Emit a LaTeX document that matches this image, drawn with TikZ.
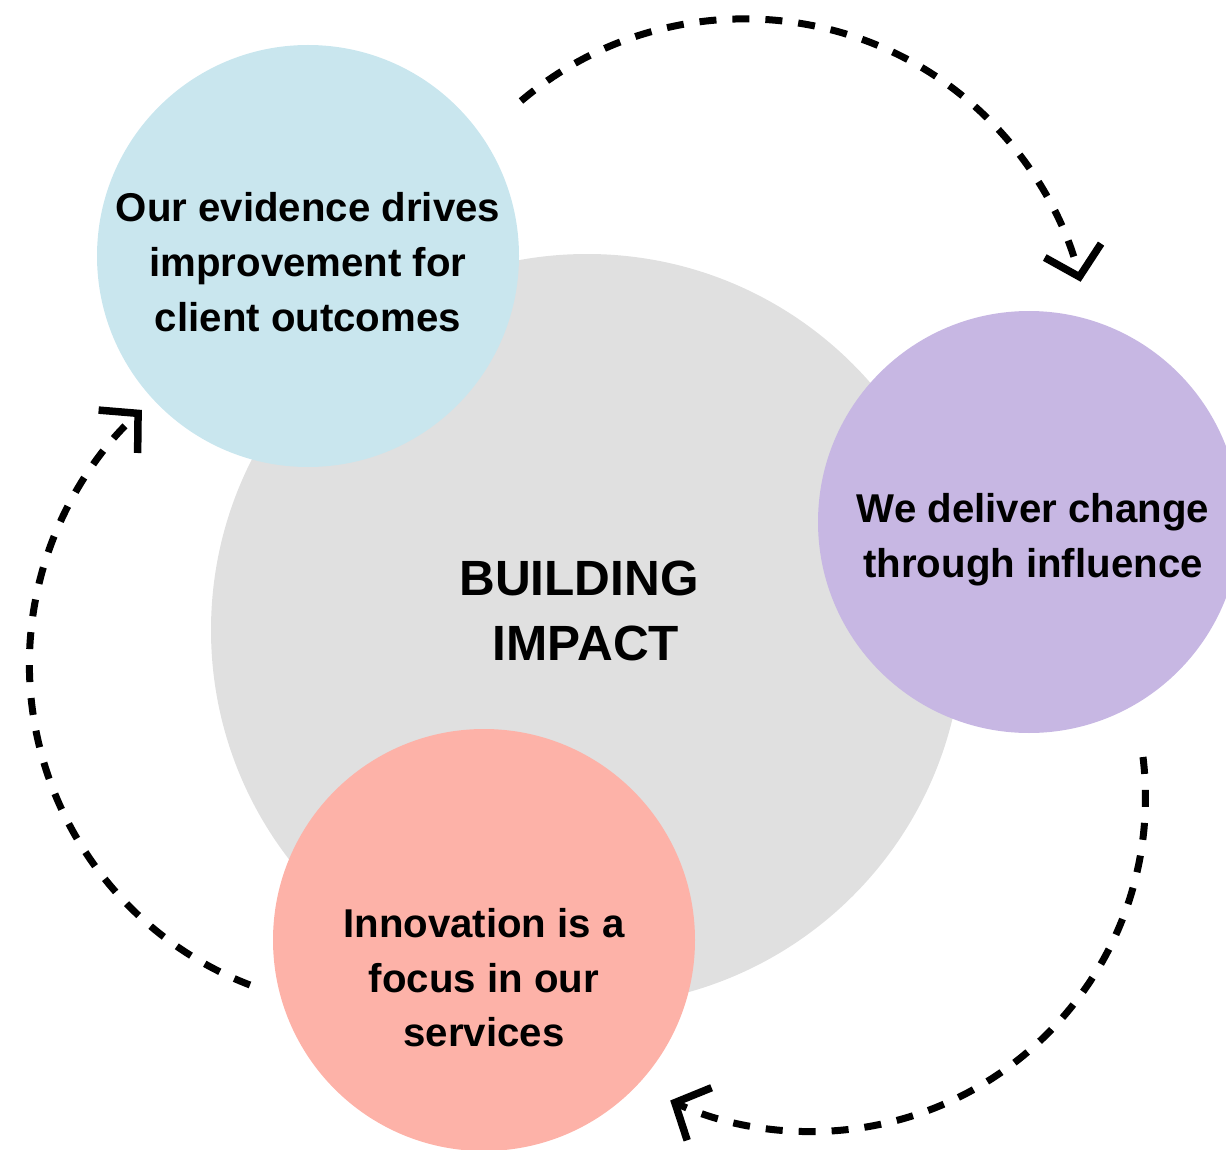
\documentclass[tikz,border=0pt]{standalone}
\usepackage{fontspec}
\setmainfont{Liberation Sans}
\usetikzlibrary{arrows.meta}
\definecolor{cgray}{HTML}{E0E0E0}
\definecolor{cblue}{HTML}{C9E6EE}
\definecolor{cpurple}{HTML}{C7B7E3}
\definecolor{csalmon}{HTML}{FDB2A8}
\begin{document}
\begin{tikzpicture}[x=1pt,y=-1pt,
  blob/.style={circle, inner sep=0, draw=none},
  txt/.style={font=\bfseries\fontsize{40.2}{54}\selectfont, anchor=base, inner sep=0, text=black},
  bigtxt/.style={font=\bfseries\fontsize{49.5}{65}\selectfont, anchor=base, inner sep=0, text=black},
  flow/.style={line width=7pt, dash pattern=on 17pt off 16pt,
    -{Straight Barb[length=27pt,width=58pt,line width=7.5pt]}}]
\useasboundingbox (0,0) rectangle (1226,1150);
\clip (0,0) rectangle (1226,1150);
% circles
\node[blob, fill=cgray, minimum size=752pt] (core) at (587,630) {};
\node[blob, fill=cblue, minimum size=422pt] (evid) at (308,256) {};
\node[blob, fill=cpurple, minimum size=422pt] (infl) at (1029,522) {};
\node[blob, fill=csalmon, minimum size=422pt] (innov) at (484,940) {};
% texts
\node[bigtxt] (b1) at (579,595) {BUILDING};
\node[bigtxt] (b2) at (586,660) {IMPACT};
\node[txt] (e1) at (308,222) {Our evidence drives};
\node[txt] (e2) at (308,277) {improvement for};
\node[txt] (e3) at (308,331) {client outcomes};
\node[txt] (i1) at (1033,522) {We deliver change};
\node[txt] (i2) at (1033,577) {through influence};
\node[txt] (n1) at (484,937) {Innovation is a};
\node[txt] (n2) at (484,992) {focus in our};
\node[txt] (n3) at (484,1046) {services};
% dashed cycle arrows
\coordinate (t0) at (521,101);
\coordinate (r0) at (1143,757);
\coordinate (l0) at (250,985);
\draw[flow] (t0) arc[start angle=-130.3, end angle=-13.9, radius=346];
\draw[flow] (r0) arc[start angle=-6.9, end angle=114.9, radius=334.4];
\draw[flow] (l0) arc[start angle=111, end angle=227.7, radius=343.7];
\end{tikzpicture}
\end{document}
